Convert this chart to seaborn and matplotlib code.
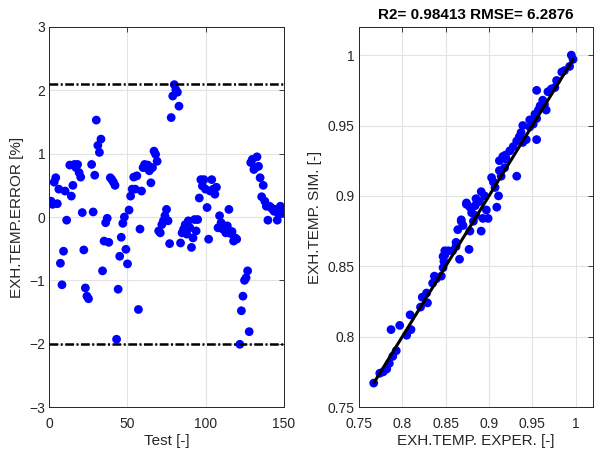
import matplotlib
matplotlib.use('Agg')
import matplotlib.pyplot as plt
import seaborn as sns
import pandas as pd

# Left panel: error per test
test_no = [1, 2, 3, 4, 5, 6, 7, 8, 9, 10, 11, 13, 14, 15, 16, 17, 18, 19, 20,
           21, 22, 23, 24, 25, 27, 28, 29, 30, 31, 32, 33, 34, 35, 36, 37, 38,
           39, 40, 41, 42, 43, 44, 45, 46, 47, 48, 49, 50, 51, 52, 53, 54, 55,
           56, 57, 58, 59, 60, 61, 62, 63, 64, 65, 66, 67, 68, 69, 70, 71, 72,
           73, 74, 75, 76, 77, 78, 79, 80, 81, 82, 83, 84, 85, 86, 87, 88, 89,
           90, 91, 92, 93, 94, 95, 96, 97, 98, 99, 100, 101, 102, 103, 104,
           105, 106, 107, 108, 109, 110, 111, 112, 113, 114, 115, 116, 117,
           118, 119, 120, 122, 123, 124, 125, 126, 127, 128, 129, 130, 131,
           132, 133, 134, 135, 136, 137, 138, 139, 140, 141, 142, 143, 144,
           145, 146, 147, 148, 149, 150]
temp_err = [0.25, 0.2, 0.55, 0.62, 0.21, 0.44, -0.73, -1.07, -0.54, 0.41, -0.05,
            0.82, 0.33, 0.5, 0.83, 0.78, 0.83, 0.7, 0.63, 0.07, -0.52, -1.12,
            -1.25, -1.29, 0.83, 0.08, 0.66, 1.53, 1.13, 1.02, 1.23, -0.85, -0.38,
            -0.09, -0.02, -0.4, 0.62, 0.59, 0.55, 0.5, -1.93, -1.14, -0.62, -0.32,
            -0.1, 0.0, -0.51, -0.74, 0.11, 0.33, 0.44, 0.63, 0.44, 0.65, -1.46,
            -0.19, 0.41, 0.78, 0.83, 0.78, 0.82, 0.73, 0.54, 0.78, 1.04, 0.99,
            0.88, -0.22, -0.25, -0.12, -0.06, 0.02, 0.12, -0.06, -0.42, 1.57,
            1.91, 2.09, 2.01, 1.97, 1.75, -0.41, -0.25, -0.19, -0.12, -0.27,
            -0.06, -0.17, -0.48, -0.33, -0.04, -0.22, -0.04, 0.3, 0.59, 0.49,
            0.59, 0.44, 0.15, -0.35, 0.41, 0.59, 0.44, 0.36, 0.47, -0.17, 0.02,
            -0.09, -0.19, -0.14, -0.25, -0.14, 0.12, -0.26, -0.23, -0.38, -0.33,
            -0.35, -2.01, -1.48, -1.25, -1.0, -0.96, -0.85, -1.81, 0.86, 0.91,
            0.75, 0.78, 0.95, 0.8, 0.62, 0.32, 0.5, 0.25, 0.17, -0.05, 0.17,
            0.15, 0.12, 0.09, 0.12, -0.05, 0.04, 0.17, 0.09, 0.07]
err_limits = [2.1, -2.0]

# Right panel: simulated vs experimental (normalised)
exper = [0.767, 0.774, 0.778, 0.782, 0.785, 0.789, 0.793, 0.787, 0.797, 0.805,
         0.810, 0.809, 0.821, 0.823, 0.828, 0.829, 0.835, 0.839, 0.845, 0.847,
         0.848, 0.849, 0.853, 0.858, 0.862, 0.866, 0.862, 0.864, 0.868, 0.870,
         0.874, 0.877, 0.878, 0.880, 0.884, 0.885, 0.837, 0.847, 0.849, 0.868,
         0.878, 0.882, 0.885, 0.891, 0.893, 0.889, 0.891, 0.895, 0.897, 0.899,
         0.903, 0.905, 0.907, 0.909, 0.911, 0.912, 0.914, 0.918, 0.920, 0.916,
         0.912, 0.924, 0.928, 0.932, 0.935, 0.939, 0.937, 0.943, 0.955, 0.939,
         0.947, 0.951, 0.955, 0.953, 0.957, 0.959, 0.964, 0.966, 0.962, 0.955,
         0.968, 0.972, 0.976, 0.978, 0.984, 0.987, 0.993, 0.995, 0.997, 0.932,
         0.874, 0.919, 0.947]
sim = [0.767, 0.774, 0.775, 0.777, 0.781, 0.786, 0.790, 0.805, 0.808, 0.801,
       0.805, 0.8155, 0.821, 0.828, 0.831, 0.824, 0.838, 0.841, 0.843, 0.849,
       0.8535, 0.858, 0.861, 0.861, 0.864, 0.855, 0.867, 0.876, 0.882, 0.879,
       0.894, 0.862, 0.875, 0.888, 0.893, 0.898, 0.843, 0.857, 0.861, 0.883,
       0.892, 0.882, 0.886, 0.875, 0.884, 0.896, 0.903, 0.900, 0.890, 0.884,
       0.913, 0.910, 0.906, 0.892, 0.900, 0.918, 0.914, 0.920, 0.926, 0.928,
       0.925, 0.932, 0.935, 0.939, 0.942, 0.938, 0.945, 0.940, 0.940, 0.950,
       0.949, 0.951, 0.955, 0.958, 0.961, 0.964, 0.965, 0.961, 0.968, 0.975,
       0.974, 0.976, 0.977, 0.982, 0.988, 0.989, 0.992, 1.000, 0.997, 0.914,
       0.895, 0.929, 0.954]
r2 = 0.98413
rmse = 6.2876

sns.set_style('whitegrid')
plt.rcParams['font.family'] = ['Liberation Sans', 'DejaVu Sans']
plt.rcParams['font.size'] = 10

ink = '#262626'
fig = plt.figure(figsize=(5.97, 4.53), dpi=100)
ax1 = fig.add_axes([0.0829, 0.1015, 0.392, 0.8389])
ax2 = fig.add_axes([0.6013, 0.1015, 0.392, 0.8389])

err_df = pd.DataFrame({'test': test_no, 'err': temp_err})
sns.scatterplot(data=err_df, x='test', y='err', ax=ax1, color='blue',
                s=40, edgecolor='none', zorder=3)
for lim in err_limits:
    ax1.axhline(lim, color='black', lw=1.8, linestyle=(0, (3.5, 1, 0.8, 1)), zorder=4)
ax1.set_xlim(0, 150)
ax1.set_ylim(-3, 3)
ax1.set_xticks([0, 50, 100, 150])
ax1.set_yticks([-3, -2, -1, 0, 1, 2, 3])
ax1.set_xlabel('Test [-]', fontsize=11, color=ink)
ax1.set_ylabel('EXH.TEMP.ERROR [%]', fontsize=11, color=ink)

fit_df = pd.DataFrame({'exper': exper, 'sim': sim})
sns.scatterplot(data=fit_df, x='exper', y='sim', ax=ax2, color='blue',
                s=40, edgecolor='none', zorder=3)
line_x = [min(exper), max(exper)]
sns.lineplot(x=line_x, y=line_x, ax=ax2, color='black', lw=2.2, zorder=4)
ax2.set_xlim(0.75, 1.02)
ax2.set_ylim(0.75, 1.02)
ticks = [0.75, 0.8, 0.85, 0.9, 0.95, 1]
ax2.set_xticks(ticks)
ax2.set_yticks(ticks)
ax2.set_xticklabels(['0.75', '0.8', '0.85', '0.9', '0.95', '1'])
ax2.set_yticklabels(['0.75', '0.8', '0.85', '0.9', '0.95', '1'])
ax2.set_xlabel('EXH.TEMP. EXPER. [-]', fontsize=11, color=ink)
ax2.set_ylabel('EXH.TEMP. SIM. [-]', fontsize=11, color=ink)
ax2.set_title(f'R2= {r2} RMSE= {rmse}', fontsize=11, fontweight='bold',
              color='black', pad=6)

for ax in (ax1, ax2):
    ax.grid(True, color='#e3e3e3', lw=0.8)
    ax.set_axisbelow(True)
    for sp in ax.spines.values():
        sp.set_visible(True)
        sp.set_color(ink)
        sp.set_linewidth(0.7)
    ax.tick_params(direction='in', length=3.5, width=0.6, colors=ink,
                   labelsize=10, top=True, right=True, pad=3)
    ax.tick_params(axis='x', pad=7)
    ax.xaxis.labelpad = 2

fig.savefig('out.png', dpi=100)
